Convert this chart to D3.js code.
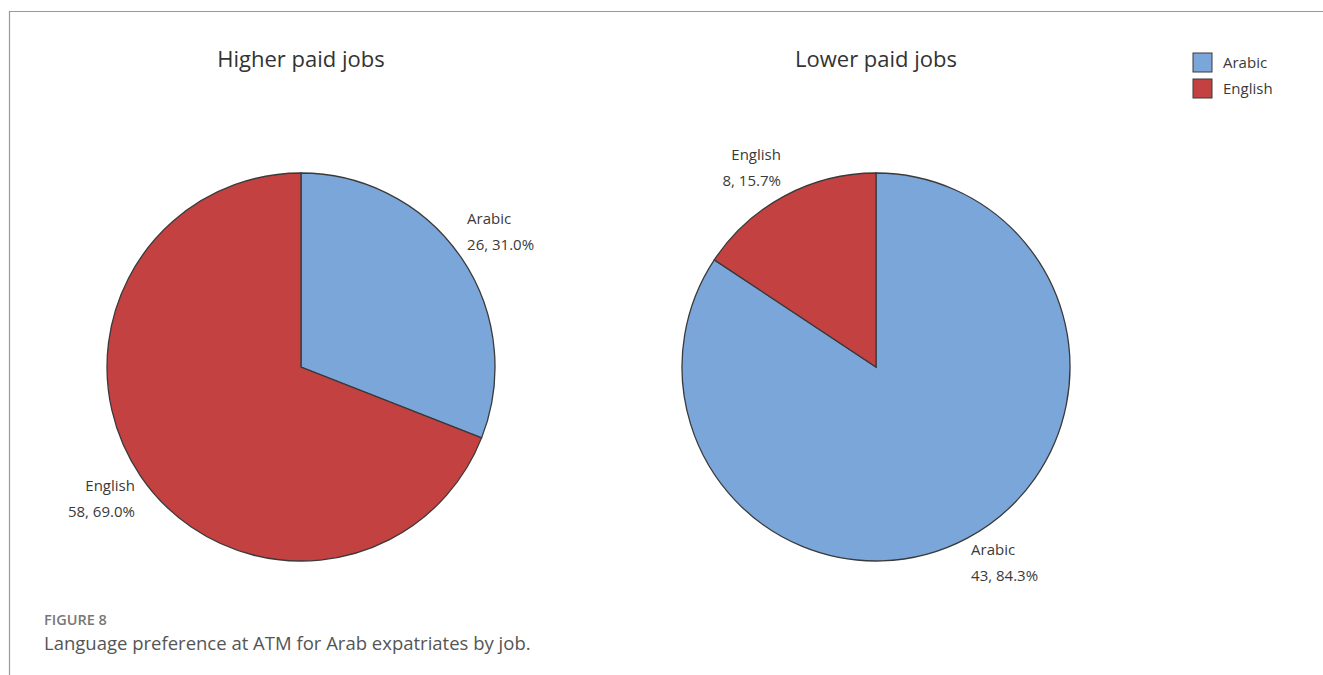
<!DOCTYPE html>
<html>
<head>
<meta charset="utf-8">
<script src="https://cdn.jsdelivr.net/npm/d3@7"></script>
<style>
  body { margin: 0; background: #fff; }
  svg { display: block; }
</style>
</head>
<body>
<div class="chart"></div>
<script>
// Data
const languages = ["Arabic", "English"];
const panelTitles = ["Higher paid jobs", "Lower paid jobs"];
const higherPaid = [26, 58];
const lowerPaid = [43, 8];
const panelValues = [higherPaid, lowerPaid];

const W = 1323, H = 675;
const R = 194;
const centers = [[301, 367], [876, 367]];

const color = d3.scaleOrdinal().domain(languages).range(["#7ba6d9", "#c44141"]);
const font = "'Open Sans', 'Noto Sans', sans-serif";

const svg = d3.select(".chart").append("svg")
    .attr("width", W)
    .attr("height", H);

// frame (top + left rule)
svg.append("path")
    .attr("d", "M9.5,675 V11.5 H1323")
    .attr("fill", "none")
    .attr("stroke", "#999")
    .attr("stroke-width", 1.2);

const pie = d3.pie().sort(null).value(d => d.value);
const arc = d3.arc().innerRadius(0).outerRadius(R);
const labelR = 201; // label box corner sits on this radius
const lineGap = 26;

panelValues.forEach((vals, i) => {
    const data = languages.map((name, j) => ({ name: name, value: vals[j] }));
    const total = d3.sum(vals);
    const g = svg.append("g")
        .attr("transform", "translate(" + centers[i][0] + "," + centers[i][1] + ")");

    g.append("text")
        .attr("x", 0)
        .attr("y", -300)
        .attr("text-anchor", "middle")
        .style("font-family", font)
        .style("font-size", "22px")
        .style("fill", "#333")
        .text(panelTitles[i]);

    const arcs = pie(data);

    g.selectAll("path.slice")
        .data(arcs)
        .enter().append("path")
        .attr("class", "slice")
        .attr("d", arc)
        .attr("fill", d => color(d.data.name))
        .attr("stroke", "#3a3a3a")
        .attr("stroke-width", 1.3);

    const lab = g.selectAll("g.lab")
        .data(arcs)
        .enter().append("g")
        .attr("class", "lab")
        .attr("transform", d => {
            const mid = (d.startAngle + d.endAngle) / 2;
            const px = labelR * Math.sin(mid), py = -labelR * Math.cos(mid);
            // upper labels sit above the corner point, lower ones below it
            const b1 = Math.cos(mid) > 0 ? py - 30 : py + 11;
            return "translate(" + px + "," + b1 + ")";
        })
        .attr("text-anchor", d => ((d.startAngle + d.endAngle) / 2 < Math.PI ? "start" : "end"))
        .style("font-family", font)
        .style("font-size", "15px")
        .style("fill", "#3a3a3a");

    lab.append("text")
        .attr("y", 0)
        .text(d => d.data.name);
    lab.append("text")
        .attr("y", lineGap)
        .text(d => d.data.value + ", " + (d.data.value / total * 100).toFixed(1) + "%");
});

// legend
const legend = svg.selectAll(".legend")
    .data(languages)
    .enter().append("g")
    .attr("class", "legend")
    .attr("transform", (d, i) => "translate(1193," + (53 + i * 26) + ")");

legend.append("rect")
    .attr("width", 19)
    .attr("height", 19)
    .attr("fill", color)
    .attr("stroke", "#3a3a3a")
    .attr("stroke-width", 1);

legend.append("text")
    .attr("x", 30)
    .attr("y", 15)
    .style("font-family", font)
    .style("font-size", "15px")
    .style("fill", "#3a3a3a")
    .text(d => d);

// caption
svg.append("text")
    .attr("x", 44)
    .attr("y", 625)
    .style("font-family", font)
    .style("font-size", "14.5px")
    .style("font-weight", 600)
    .style("fill", "#777")
    .text("FIGURE 8");

svg.append("text")
    .attr("x", 44)
    .attr("y", 650)
    .style("font-family", font)
    .style("font-size", "18.5px")
    .style("fill", "#555")
    .text("Language preference at ATM for Arab expatriates by job.");
</script>
</body>
</html>
